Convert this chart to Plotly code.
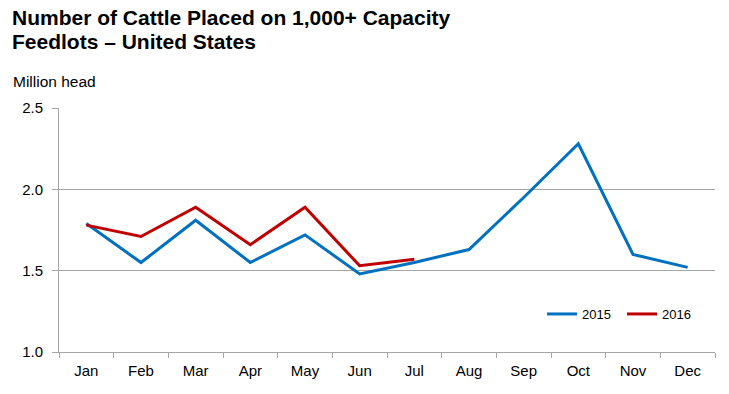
import plotly.graph_objects as go

months = ["Jan", "Feb", "Mar", "Apr", "May", "Jun", "Jul", "Aug", "Sep", "Oct", "Nov", "Dec"]
values_2015 = [1.79, 1.55, 1.81, 1.55, 1.72, 1.48, 1.55, 1.63, 1.95, 2.28, 1.60, 1.52]
months_2016 = ["Jan", "Feb", "Mar", "Apr", "May", "Jun", "Jul"]
values_2016 = [1.78, 1.71, 1.89, 1.66, 1.89, 1.53, 1.57]
y_ticks = [1.0, 1.5, 2.0, 2.5]
y_tick_labels = ["1.0", "1.5", "2.0", "2.5"]

FONT = "Liberation Sans, Arial, sans-serif"
GRID = "#a6a6a6"

fig = go.Figure()
fig.add_trace(go.Scatter(x=months, y=values_2015, mode="lines", name="2015",
                         line=dict(color="#0070C0", width=3)))
fig.add_trace(go.Scatter(x=months_2016, y=values_2016, mode="lines", name="2016",
                         line=dict(color="#C00000", width=3)))

W, H = 729, 394
# desired plot area in page coordinates (body margin removed via post_script)
PL, PR, PT, PB = 59, 715, 108, 352
L, T, R, B = PL, PT, W - PR, H - PB
PW = PR - PL
PH = PB - PT

def px_x(px):
    return (px - PL) / PW

def px_y(py):
    return (PB - py) / PH

fig.update_layout(
    width=W, height=H,
    margin=dict(l=L, r=R, t=T, b=B, autoexpand=False),
    paper_bgcolor="white", plot_bgcolor="white",
    font=dict(family=FONT, color="black", size=15),
    showlegend=True,
    legend=dict(orientation="h", x=px_x(542), y=px_y(314), xanchor="left", yanchor="middle",
                font=dict(size=13, family=FONT, color="black"),
                bgcolor="rgba(0,0,0,0)", entrywidth=35, entrywidthmode="pixels",
                traceorder="normal"),
    xaxis=dict(type="category", categoryorder="array", categoryarray=months,
               showgrid=False, showline=True, linecolor=GRID, linewidth=1,
               ticks="outside", tickson="boundaries", ticklen=5, tickcolor=GRID,
               ticklabelstandoff=5,
               tickfont=dict(size=15, family=FONT, color="black"),
               range=[-0.5, 11.5], fixedrange=True),
    yaxis=dict(range=[1.0, 2.5], tickvals=y_ticks, ticktext=y_tick_labels,
               showgrid=True, gridcolor=GRID, gridwidth=1,
               showline=True, linecolor=GRID, linewidth=1,
               ticks="outside", ticklen=6, tickcolor=GRID,
               ticklabelstandoff=6,
               tickfont=dict(size=15, family=FONT, color="black"),
               zeroline=False, fixedrange=True),
    annotations=[
        dict(text="<b>Number of Cattle Placed on 1,000+ Capacity</b>", xref="paper", yref="paper",
             x=px_x(10), y=px_y(18), xanchor="left", yanchor="middle", showarrow=False,
             font=dict(size=21, family=FONT, color="black")),
        dict(text="<b>Feedlots \u2013 United States</b>", xref="paper", yref="paper",
             x=px_x(10), y=px_y(41), xanchor="left", yanchor="middle", showarrow=False,
             font=dict(size=21, family=FONT, color="black")),
        dict(text="Million head", xref="paper", yref="paper",
             x=px_x(11), y=px_y(81), xanchor="left", yanchor="middle", showarrow=False,
             font=dict(size=15.5, family=FONT, color="black")),
    ],
)

fig.write_html("out.html", config={"displayModeBar": False},
               post_script="document.body.style.margin='0';")
